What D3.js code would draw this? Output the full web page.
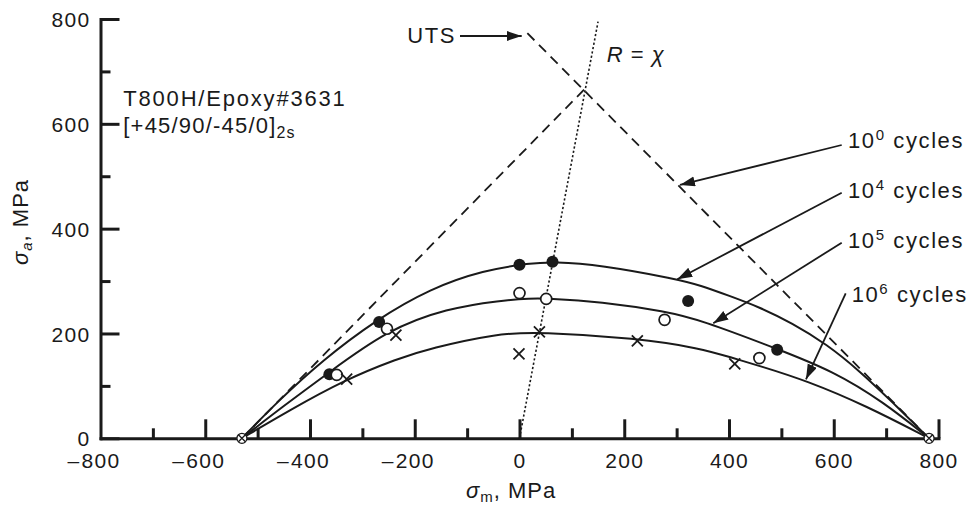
<!DOCTYPE html>
<html><head><meta charset="utf-8">
<script src="https://cdn.jsdelivr.net/npm/d3@7"></script>
<style>
html,body{margin:0;padding:0;background:#fff;}
svg{display:block;background:#fff;}
text{font-family:"Liberation Sans",Arial,Helvetica,sans-serif;fill:#1a1a1a;}
</style></head><body>
<svg id="chart" width="972" height="506"></svg>
<script>
// ---- tick values ----
const xMajorTicks = [-800,-600,-400,-200,0,200,400,600,800];
const xMinorTicks = [-700,-500,-300,-100,100,300,500,700];
const yMajorTicks = [0,200,400,600,800];
const yMinorTicks = [100,300,500,700];

// ---- constant fatigue life curves (sigma_m, sigma_a in MPa) ----
const curve1e4Mean = [-530,-460,-376,-274,-170,-68,20,65,154,300,345,400,459,520,586,650,713,782];
const curve1e4Amp  = [0,72,149,226,286,321,334,337,331,304,292,272,250,220,180,128,68,0];
const curve1e5Mean = [-530,-450,-366,-252,-138,-36,21,53,154,281,345,494,599,694,782];
const curve1e5Amp  = [0,62,124,207,248,263,267,267,261,242,226,170,128,70,0];
const curve1e6Mean = [-530,-440,-335,-233,-170,-42,37,224,345,408,459,548,662,782];
const curve1e6Amp  = [0,53,111,152,172,200,203,191,172,153,138,110,62,0];

// ---- experimental data ----
const pts1e4Mean = [-363,-268,0,63,322,492];
const pts1e4Amp  = [122,222,331,337,262,169];
const pts1e5Mean = [-349,-253,0,51,277,458];
const pts1e5Amp  = [121,209,277,266,226,153];
const pts1e6Mean = [-330,-236,-1,38,225,411];
const pts1e6Amp  = [113,197,161,203,186,142];
const focalMean  = [-530,782];
const focalAmp   = [0,0];

// ---- static strength envelope (10^0 cycles) and R = chi line ----
const ucsLineMean = [-530,124];
const ucsLineAmp  = [0,666];
const utsLineMean = [15,782];
const utsLineAmp  = [773,0];
const rChiMean = [0,150];
const rChiAmp  = [0,795];

// ---- labels ----
const cycleExponents = ["0","4","5","6"];
const materialName = "T800H/Epoxy#3631";
const layupText = "[+45/90/-45/0]";
const layupSub = "2s";

const zip = (a,b) => a.map((v,i)=>[v,b[i]]);
const INK = "#1a1a1a";
const svg = d3.select("#chart");
const x = d3.scaleLinear().domain([-800,800]).range([100.5,938.5]);
const y = d3.scaleLinear().domain([0,800]).range([438.3,19]);

svg.append("defs").append("marker")
  .attr("id","ah").attr("markerUnits","userSpaceOnUse")
  .attr("markerWidth",16).attr("markerHeight",11)
  .attr("refX",15).attr("refY",5).attr("orient","auto")
  .append("path").attr("d","M0,0 L15,5 L0,10 Z").attr("fill",INK);

// ---- axes ----
function styleAxis(g){
  g.attr("color",INK).attr("font-size",21)
   .attr("font-family",'"Liberation Sans",Arial,sans-serif');
  g.selectAll("line").attr("stroke-width",3);
  g.selectAll("path.domain").attr("stroke-width",3).attr("stroke-linecap","square");
  g.selectAll("text").style("letter-spacing","1.3px");
}
const yAx = svg.append("g").attr("transform",`translate(${x(-800)},0)`)
  .call(d3.axisLeft(y).tickValues(yMajorTicks).tickSize(-19).tickSizeOuter(0).tickPadding(10).tickFormat(d=>String(d)));
styleAxis(yAx);
yAx.selectAll("text").attr("dy","0.36em");
const yAxMin = svg.append("g").attr("transform",`translate(${x(-800)},0)`)
  .call(d3.axisLeft(y).tickValues(yMinorTicks).tickSize(-10).tickFormat(""));
yAxMin.select(".domain").remove(); styleAxis(yAxMin);

const xAx = svg.append("g").attr("transform",`translate(0,${y(0)})`)
  .call(d3.axisBottom(x).tickValues(xMajorTicks).tickSize(-19).tickSizeOuter(0).tickPadding(15).tickFormat(d=>String(Math.abs(d))));
styleAxis(xAx);
xAx.selectAll(".tick").filter(d=>d===-800).select("line").remove();
xAx.selectAll(".tick").each(function(d){
  if(d<0){
    const t = d3.select(this).select("text");
    const w = t.node().getComputedTextLength();
    d3.select(this).append("text").attr("fill","currentColor")
      .attr("x",-w/2-1).attr("y",t.attr("y")).attr("dy",t.attr("dy"))
      .attr("text-anchor","end").style("letter-spacing","1.3px").text("\u2013");
  }
});
const xAxMin = svg.append("g").attr("transform",`translate(0,${y(0)})`)
  .call(d3.axisBottom(x).tickValues(xMinorTicks).tickSize(-10).tickFormat(""));
xAxMin.select(".domain").remove(); styleAxis(xAxMin);

// axis titles
const yt = svg.append("text").attr("transform","translate(28,222) rotate(-90)")
  .attr("text-anchor","middle").attr("font-size",22).style("letter-spacing","1px");
yt.append("tspan").attr("font-style","italic").text("\u03c3");
yt.append("tspan").attr("font-size",15).attr("font-style","italic").attr("dy",4).text("a");
yt.append("tspan").attr("dy",-4).text(",\u00a0MPa");

const xt = svg.append("text").attr("x",511).attr("y",498)
  .attr("text-anchor","middle").attr("font-size",22).style("letter-spacing","1px");
xt.append("tspan").attr("font-style","italic").text("\u03c3");
xt.append("tspan").attr("font-size",15).attr("dy",4).text("m");
xt.append("tspan").attr("dy",-4).text(",\u00a0MPa");

// ---- lines ----
const lineGen = d3.line().x(d=>x(d[0])).y(d=>y(d[1]));
const curveGen = d3.line().x(d=>x(d[0])).y(d=>y(d[1])).curve(d3.curveBasis);

svg.append("path").datum(zip(ucsLineMean,ucsLineAmp)).attr("d",lineGen)
  .attr("fill","none").attr("stroke",INK).attr("stroke-width",1.8).attr("stroke-dasharray","10,6.5");
svg.append("path").datum(zip(utsLineMean,utsLineAmp)).attr("d",lineGen)
  .attr("fill","none").attr("stroke",INK).attr("stroke-width",1.8).attr("stroke-dasharray","10,6.5");
svg.append("path").datum(zip(rChiMean,rChiAmp)).attr("d",lineGen)
  .attr("fill","none").attr("stroke",INK).attr("stroke-width",1.6).attr("stroke-dasharray","2.2,2.2");

[[curve1e4Mean,curve1e4Amp],[curve1e5Mean,curve1e5Amp],[curve1e6Mean,curve1e6Amp]].forEach(([m,a])=>{
  svg.append("path").datum(zip(m,a)).attr("d",curveGen)
    .attr("fill","none").attr("stroke",INK).attr("stroke-width",2);
});

// ---- markers ----
svg.append("g").selectAll("circle").data(zip(pts1e4Mean,pts1e4Amp)).join("circle")
  .attr("cx",d=>x(d[0])).attr("cy",d=>y(d[1])).attr("r",6).attr("fill",INK);
svg.append("g").selectAll("circle").data(zip(pts1e5Mean,pts1e5Amp)).join("circle")
  .attr("cx",d=>x(d[0])).attr("cy",d=>y(d[1])).attr("r",5.5)
  .attr("fill","#fff").attr("stroke",INK).attr("stroke-width",1.7);
svg.append("g").selectAll("path").data(zip(pts1e6Mean,pts1e6Amp)).join("path")
  .attr("d",d=>{const cx=x(d[0]),cy=y(d[1]),s=5.5;return `M${cx-s},${cy-s}L${cx+s},${cy+s}M${cx-s},${cy+s}L${cx+s},${cy-s}`;})
  .attr("stroke",INK).attr("stroke-width",1.8).attr("fill","none");
const foc = svg.append("g").selectAll("g").data(zip(focalMean,focalAmp)).join("g")
  .attr("transform",d=>`translate(${x(d[0])},${y(d[1])})`);
foc.append("circle").attr("r",5).attr("fill","#fff").attr("stroke",INK).attr("stroke-width",1.3);
foc.append("path").attr("d","M-3.5,-3.5L3.5,3.5M-3.5,3.5L3.5,-3.5").attr("stroke",INK).attr("stroke-width",1.3);

// ---- annotations ----
const arrowTail = [[615.2,559.6],[615.2,468.6],[615.2,373.2],[622.8,276.7]];
const arrowTip  = [[306.4,483.3],[301.3,303.4],[370,219.4],[547,112.6]];
const labelPos  = [[848,148.3],[848,198.3],[848,248.3],[851.7,301.7]];
cycleExponents.forEach((e,i)=>{
  svg.append("line")
    .attr("x1",x(arrowTail[i][0])).attr("y1",y(arrowTail[i][1]))
    .attr("x2",x(arrowTip[i][0])).attr("y2",y(arrowTip[i][1]))
    .attr("stroke",INK).attr("stroke-width",1.8).attr("marker-end","url(#ah)");
  const t = svg.append("text").attr("x",labelPos[i][0]).attr("y",labelPos[i][1])
    .attr("font-size",22).style("letter-spacing","1.6px");
  t.append("tspan").text("10");
  t.append("tspan").attr("font-size",15).attr("dy",-8).text(e);
  t.append("tspan").attr("dy",8).text("\u00a0cycles");
});

// UTS arrow
svg.append("line").attr("x1",x(-113.6)).attr("y1",y(767.6)).attr("x2",x(4.2)).attr("y2",y(767.6))
  .attr("stroke",INK).attr("stroke-width",1.8).attr("marker-end","url(#ah)");
svg.append("text").attr("x",456).attr("y",43.3).attr("text-anchor","end")
  .attr("font-size",22).style("letter-spacing","1.6px").text("UTS");

// R = chi
const rt = svg.append("text").attr("x",606.7).attr("y",61.7).attr("font-size",22).style("letter-spacing","1px");
rt.append("tspan").attr("font-style","italic").text("R");
rt.append("tspan").text("\u00a0=\u00a0");
rt.append("tspan").attr("font-style","italic").text("\u03c7");

// material
svg.append("text").attr("x",123.3).attr("y",105.7).attr("font-size",22)
  .style("letter-spacing","1.8px").text(materialName);
const lt = svg.append("text").attr("x",123.3).attr("y",133.3).attr("font-size",22).style("letter-spacing","1.2px");
lt.append("tspan").text(layupText);
lt.append("tspan").attr("font-size",16).attr("dy",5).text(layupSub);
</script>
</body></html>
